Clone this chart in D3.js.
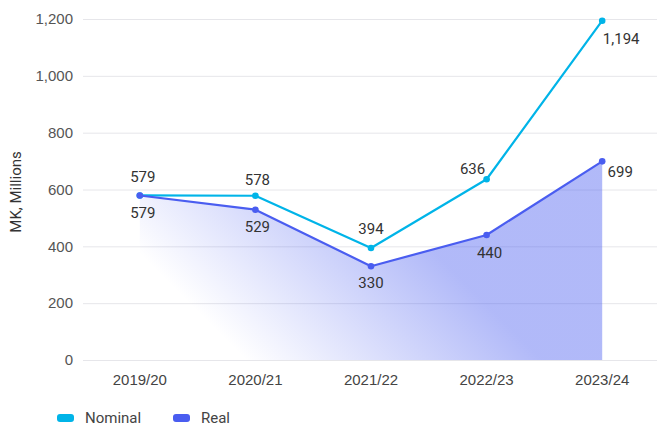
<!DOCTYPE html>
<html>
<head>
<meta charset="utf-8">
<script src="https://cdn.jsdelivr.net/npm/d3@7/dist/d3.min.js"></script>
<style>
  html, body { margin: 0; padding: 0; background: #fff; }
  svg { display: block; font-family: Roboto, "Noto Sans", sans-serif; }
</style>
</head>
<body>
<svg id="chart" width="657" height="427"></svg>
<script>
// Budget figures, MK millions
const years = ["2019/20", "2020/21", "2021/22", "2022/23", "2023/24"];
const nominal = [579, 578, 394, 636, 1194];
const real = [579, 529, 330, 440, 699];
const yTicks = [0, 200, 400, 600, 800, 1000, 1200];
const seriesNames = ["Nominal", "Real"];

const colNominal = "#00b4e8";
const colReal = "#4a5df0";
const fontSize = 15;

const svg = d3.select("#chart");
const plotLeft = 83, plotRight = 660, plotTop = 19, plotBottom = 360;

const x = d3.scaleBand().domain(years).range([plotLeft - 1, plotRight]);
const cx = d => x(d) + x.bandwidth() / 2;
const y = d3.scaleLinear().domain([0, 1200]).range([plotBottom, plotTop]);
const fmt = d3.format(",");

// gradient for the area under the real series
const defs = svg.append("defs");
const grad = defs.append("linearGradient")
  .attr("id", "areaGrad")
  .attr("gradientUnits", "userSpaceOnUse")
  .attr("x1", 120).attr("y1", 234)
  .attr("x2", 268).attr("y2", 86);
grad.append("stop").attr("offset", 0).attr("stop-color", colReal).attr("stop-opacity", 0);
grad.append("stop").attr("offset", 1).attr("stop-color", colReal).attr("stop-opacity", 0.43);

// gridlines and y axis
const yAxis = svg.append("g")
  .attr("transform", `translate(${plotLeft},0)`)
  .call(d3.axisLeft(y).tickValues(yTicks).tickFormat(fmt).tickSize(-(657 - plotLeft)).tickPadding(10));
yAxis.select(".domain").remove();
yAxis.selectAll(".tick line").attr("stroke", "#e6e6ea").attr("stroke-width", 1);
yAxis.selectAll(".tick text").attr("fill", "#555").attr("font-size", fontSize);

// x axis labels
const xAxis = svg.append("g")
  .attr("transform", `translate(0,${plotBottom})`)
  .call(d3.axisBottom(x).tickSize(0).tickPadding(14));
xAxis.select(".domain").remove();
xAxis.selectAll(".tick text").attr("fill", "#444").attr("font-size", fontSize);

// y axis title
svg.append("text")
  .attr("transform", "translate(21,192) rotate(-90)")
  .attr("text-anchor", "middle")
  .attr("fill", "#333")
  .attr("font-size", fontSize)
  .text("MK, Millions");

// area under real
const area = d3.area().x((d, i) => cx(years[i])).y0(plotBottom).y1(d => y(d));
svg.append("path").datum(real).attr("d", area).attr("fill", "url(#areaGrad)");

const line = d3.line().x((d, i) => cx(years[i])).y(d => y(d));

function drawSeries(vals, color) {
  svg.append("path").datum(vals).attr("d", line)
    .attr("fill", "none").attr("stroke", color).attr("stroke-width", 2.2)
    .attr("stroke-linejoin", "round");
  svg.append("g").selectAll("circle").data(vals).join("circle")
    .attr("cx", (d, i) => cx(years[i])).attr("cy", d => y(d))
    .attr("r", 3.3).attr("fill", color);
}
drawSeries(nominal, colNominal);
drawSeries(real, colReal);

// value labels: offsets [dx, dy] per point
const nomOff = [[3, -13], [2, -11], [0, -14], [-14, -5], [19, 23]];
const realOff = [[3, 23], [2, 22], [0, 22], [3, 23], [18, 16]];
function drawLabels(vals, offs) {
  svg.append("g").selectAll("text").data(vals).join("text")
    .attr("x", (d, i) => cx(years[i]) + offs[i][0])
    .attr("y", (d, i) => y(d) + offs[i][1])
    .attr("text-anchor", "middle")
    .attr("fill", "#333")
    .attr("font-size", fontSize)
    .text(d => fmt(d));
}
drawLabels(nominal, nomOff);
drawLabels(real, realOff);

// legend
const legend = svg.append("g").attr("transform", "translate(57,418)");
const lg = legend.selectAll("g").data(seriesNames).join("g")
  .attr("transform", (d, i) => `translate(${i * 116},0)`);
lg.append("rect").attr("x", 0).attr("y", -4).attr("width", 17).attr("height", 8)
  .attr("rx", 3).attr("fill", (d, i) => i === 0 ? colNominal : colReal);
lg.append("text").attr("x", 28).attr("y", 5).attr("fill", "#444").attr("font-size", fontSize)
  .text(d => d);
</script>
</body>
</html>
